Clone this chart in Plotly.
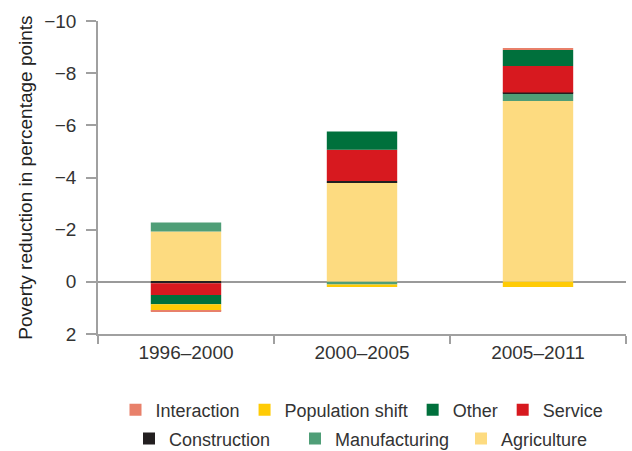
import plotly.graph_objects as go

periods = ["1996–2000", "2000–2005", "2005–2011"]
agriculture = [-1.93, -3.81, -6.93]
manufacturing = [-0.34, 0.10, -0.28]
construction = [0.05, -0.06, -0.05]
service = [0.45, -1.19, -1.01]
other = [0.36, -0.70, -0.62]
population_shift = [0.25, 0.10, 0.20]
interaction = [0.04, 0.0, -0.05]

series = [
    ("Agriculture", agriculture, "#FDDB80", "legend2"),
    ("Manufacturing", manufacturing, "#4F9E77", "legend2"),
    ("Construction", construction, "#231F20", "legend2"),
    ("Service", service, "#D7191F", "legend"),
    ("Other", other, "#00703C", "legend"),
    ("Population shift", population_shift, "#FFCB05", "legend"),
    ("Interaction", interaction, "#E8806A", "legend"),
]

FONT = "Liberation Sans, Arial, sans-serif"
fig = go.Figure()
for name, vals, color, lg in series:
    fig.add_trace(go.Bar(
        x=periods, y=vals, name=name, legend=lg,
        marker=dict(color=color, line=dict(width=0)),
    ))

fig.update_layout(
    width=632, height=451,
    barmode="relative", bargap=0.6,
    plot_bgcolor="white", paper_bgcolor="white",
    margin=dict(l=98, r=6, t=21, b=117, autoexpand=False),
    font=dict(family=FONT, size=19, color="#333333"),
    showlegend=True,
    legend=dict(orientation="h", x=0.5, xanchor="center", y=-0.243, yanchor="middle",
                traceorder="reversed", font=dict(size=18, color="#333333"),
                bgcolor="rgba(0,0,0,0)"),
    legend2=dict(orientation="h", x=(129 - 98) / 528, xanchor="left", y=-0.335, yanchor="middle",
                 traceorder="reversed", font=dict(size=18, color="#333333"),
                 entrywidth=121, entrywidthmode="pixels",
                 bgcolor="rgba(0,0,0,0)"),
)
fig.update_yaxes(
    range=[2, -10], tickvals=[2, 0, -2, -4, -6, -8, -10], automargin=False,
    showgrid=False, zeroline=True, zerolinecolor="#9a9a9a", zerolinewidth=1.5,
    showline=True, linecolor="#a0a0a0", linewidth=1.5,
    ticks="outside", ticklen=10, tickcolor="#a0a0a0", tickwidth=1.5,
    ticklabelstandoff=6,
    title=dict(text="Poverty reduction in percentage points", font=dict(size=19, color="#222222"), standoff=7),
)
fig.update_xaxes(
    automargin=False,
    showgrid=False, showline=True, linecolor="#a0a0a0", linewidth=1.5,
    ticks="outside", tickson="boundaries", ticklen=8, tickcolor="#a0a0a0", tickwidth=1.5,
)
fig.write_html("out.html", config={"displayModeBar": False},
               post_script="document.body.style.margin='0';document.body.style.padding='0';")
